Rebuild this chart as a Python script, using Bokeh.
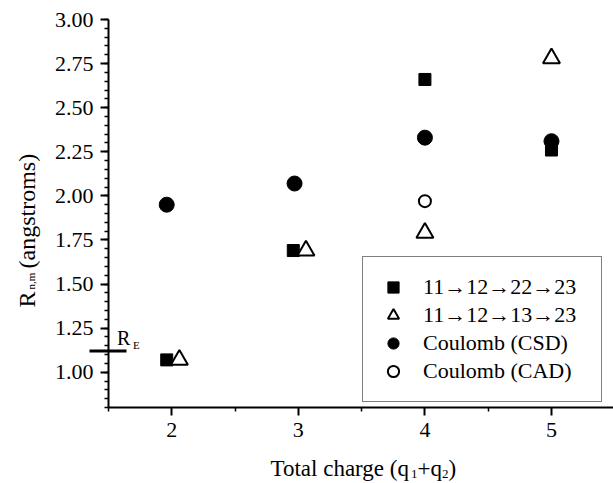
import math

from bokeh.plotting import figure
from bokeh.models import (FixedTicker, Legend, LegendItem, Label, Range1d)
from bokeh.embed import file_html
from bokeh.resources import INLINE

# Nearest-neighbour distance R_{n,m} versus total charge of the pair
charge_sq = [1.96, 2.96, 4.0, 5.0]          # 11->12->22->23
r_sq = [1.07, 1.69, 2.66, 2.26]
charge_tri = [2.06, 3.06, 4.0, 5.0]         # 11->12->13->23
r_tri = [1.07, 1.69, 1.79, 2.78]
charge_csd = [1.96, 2.97, 4.0, 5.0]         # Coulomb (CSD)
r_csd = [1.95, 2.07, 2.33, 2.31]
charge_cad = [4.0]                          # Coulomb (CAD)
r_cad = [1.97]
r_e = 1.12                                  # equilibrium distance R_E

legend_labels = ["11\u219212\u219222\u219223", "11\u219212\u219213\u219223",
                 "Coulomb (CSD)", "Coulomb (CAD)"]
x_ticks = [2, 3, 4, 5]
x_tick_labels = ["2", "3", "4", "5"]
x_minor = [1.5, 2.5, 3.5, 4.5]
y_ticks = [1.00, 1.25, 1.50, 1.75, 2.00, 2.25, 2.50, 2.75, 3.00]
y_tick_labels = ["1.00", "1.25", "1.50", "1.75", "2.00", "2.25", "2.50", "2.75", "3.00"]
y_minor = [round(0.80 + 0.05 * i, 2) for i in range(45)]

# axis extent in data space and where it sits on the canvas (pixels)
X0, X1 = 1.5, 5.49
Y0, Y1 = 0.80, 3.00
AX_LEFT, AX_TOP, AX_W, AX_H = 108, 19, 505, 388
W, H = 613, 483
BASE = 7   # alphabetic labels are drawn this many pixels below their anchor

SERIF = "Liberation Serif"


def dx(px):
    return X0 + (px - AX_LEFT) * (X1 - X0) / AX_W


def dy(py):
    return Y1 - (py - AX_TOP) * (Y1 - Y0) / AX_H


# the frame fills the page; the axes are pinned at the data origin
p = figure(width=W, height=H,
           x_range=Range1d(dx(0), dx(W)), y_range=Range1d(dy(H), dy(0)),
           output_backend="svg", toolbar_location=None,
           min_border_left=0, min_border_right=0,
           min_border_top=0, min_border_bottom=0)
p.xgrid.visible = False
p.ygrid.visible = False
p.outline_line_color = None
p.background_fill_color = "white"
p.border_fill_color = "white"

p.xaxis.ticker = FixedTicker(ticks=x_ticks, minor_ticks=x_minor)
p.yaxis.ticker = FixedTicker(ticks=y_ticks, minor_ticks=y_minor)
p.xaxis.fixed_location = Y0
p.yaxis.fixed_location = X0
p.xaxis.bounds = (X0, X1)
p.yaxis.bounds = (Y0, Y1)

for ax in (p.xaxis[0], p.yaxis[0]):
    ax.axis_line_color = "black"
    ax.axis_line_width = 2
    ax.major_tick_line_color = "black"
    ax.major_tick_line_width = 2
    ax.minor_tick_line_color = "black"
    ax.minor_tick_line_width = 1.5
    ax.major_tick_in = 0
    ax.major_tick_out = 8
    ax.minor_tick_in = 0
    ax.minor_tick_out = 4
    ax.major_label_text_color = None   # tick labels are set as Labels below

r1 = p.scatter(charge_sq, r_sq, marker="square", size=12,
               fill_color="black", line_color="black", line_width=1)
r2 = p.scatter(charge_tri, r_tri, marker="triangle", size=17,
               fill_color="white", line_color="black", line_width=2)
r3 = p.scatter(charge_csd, r_csd, marker="circle", size=15,
               fill_color="black", line_color="black", line_width=1)
r4 = p.scatter(charge_cad, r_cad, marker="circle", size=12,
               fill_color="white", line_color="black", line_width=2)

legend = Legend(
    items=[LegendItem(label=lab, renderers=[r])
           for lab, r in zip(legend_labels, [r1, r2, r3, r4])],
    location=(362, H - 402), orientation="vertical",
    glyph_width=28, glyph_height=28, spacing=0, padding=16,
    label_standoff=16, label_width=162, label_height=28, margin=0,
    label_text_font=SERIF, label_text_font_size="22px", label_text_color="black",
    border_line_color="black", border_line_width=1.5,
    background_fill_color="white", background_fill_alpha=1.0)
p.add_layout(legend)

# R_E marker reaching across the distance axis
p.segment(x0=[dx(89)], y0=[r_e], x1=[dx(126)], y1=[r_e],
          line_color="black", line_width=3)


def text(x, y, s, size, angle=0.0, align="left", baseline="alphabetic"):
    p.add_layout(Label(x=x, y=y, text=s, angle=angle,
                       text_font=SERIF, text_font_size=size, text_color="black",
                       text_align=align, text_baseline=baseline))


# tick labels
for t, s in zip(y_ticks, y_tick_labels):
    text(dx(93), t, s, "22px", align="right", baseline="middle")
for t, s in zip(x_ticks, x_tick_labels):
    text(t, dy(436 - BASE), s, "22px", align="center")

text(dx(116.5), dy(344 - BASE), "R", "20px")
text(dx(132.5), dy(351.5 - BASE), "E", "11px")

# x axis title with subscripts
text(dx(270), dy(475 - BASE), "Total charge (q", "23px")
text(dx(410.5), dy(480 - BASE), "1", "13px")
text(dx(417), dy(475 - BASE), "+q", "23px")
text(dx(441.5), dy(480 - BASE), "2", "13px")
text(dx(448), dy(475 - BASE), ")", "23px")

# y axis title with subscripts, reading upwards
up = math.pi / 2
text(dx(33 - BASE), dy(307), "R", "24px", up)
text(dx(37 - BASE), dy(289), "n,m", "11px", up)
text(dx(33 - BASE), dy(268), "(angstroms)", "24px", up)

open("out.html", "w").write(file_html(p, INLINE))
